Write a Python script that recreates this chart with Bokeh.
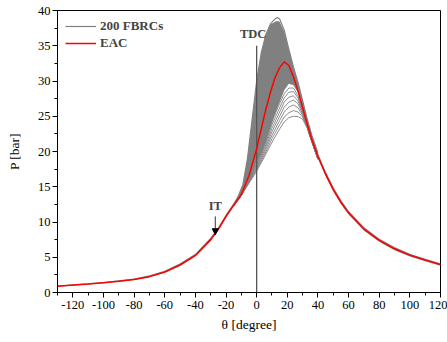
from bokeh.plotting import figure
from bokeh.models import Range1d, FixedTicker, Legend, LegendItem, Label, Arrow, NormalHead
from bokeh.embed import file_html
from bokeh.resources import INLINE

# ---- data ----
theta_red = [-130, -120, -110, -100, -90, -80, -70, -60, -50, -40, -30, -25, -20, -15, -10, -5, 0, 3, 6, 9,
             12, 15, 18, 21, 24, 27, 30, 33, 36, 40, 45, 50, 55, 60, 70, 80, 90, 100, 110, 120]
p_red = [0.9, 1.05, 1.2, 1.4, 1.6, 1.85, 2.25, 2.9, 3.9, 5.25, 7.5, 9.0, 10.8, 12.4, 13.9, 16.6, 20.4, 23.2, 26.0, 28.4,
         30.5, 31.9, 32.7, 32.2, 30.6, 28.6, 26.2, 23.9, 21.7, 19.3, 16.8, 14.6, 12.8, 11.3, 9.0, 7.4, 6.2, 5.3, 4.6, 3.95]

# dense part of the 200 FBRC bundle (upper / lower envelope)
theta_band = [-130, -120, -110, -100, -90, -80, -70, -60, -50, -40, -30, -25, -20, -15, -12, -9, -6, -3,
              0, 3, 6, 9, 12, 13.5, 15, 18, 21, 24, 27, 30, 33, 36, 40, 45, 50, 55, 60, 70, 80, 90, 100, 110, 120]
band_hi = [1.0, 1.15, 1.3, 1.5, 1.75, 2.0, 2.45, 3.1, 4.15, 5.5, 7.8, 9.3, 11.1, 12.7, 13.7, 15.3, 19.0, 24.5,
           30.0, 34.0, 36.6, 38.0, 38.4, 38.5, 38.4, 37.0, 34.4, 32.0, 29.8, 27.2, 24.6, 22.3, 19.8,
           17.2, 15.0, 13.15, 11.6, 9.3, 7.65, 6.45, 5.5, 4.8, 4.15]
band_lo = [0.82, 0.97, 1.12, 1.32, 1.52, 1.77, 2.17, 2.8, 3.8, 5.1, 7.3, 8.8, 10.6, 12.2, 13.0, 14.0, 15.2, 16.7,
           18.6, 19.6, 21.4, 23.4, 25.3, 26.2, 27.0, 28.7, 29.6, 29.4, 28.3, 25.9, 23.6, 21.4, 19.0,
           16.5, 14.35, 12.55, 11.05, 8.8, 7.2, 6.0, 5.12, 4.45, 3.8]

# highest FBRC
theta_top = [-15, -12, -9, -6, -3, 0, 3, 6, 9, 12, 13.5, 15, 18, 21, 24, 27, 30, 33, 36, 40]
p_top = [12.4, 13.7, 15.3, 19.0, 24.5, 30.0, 34.0, 36.6, 38.1, 38.8, 39.0, 38.8, 37.2, 34.5, 32.0, 29.8,
         27.2, 24.6, 22.3, 19.8]

# sparse low FBRCs
theta_low = [-15, -10, -5, 0, 5, 10, 15, 18, 21, 24, 27, 30, 33, 36, 40]
low_1 = [12.3, 13.8, 15.5, 17.2, 19.2, 21.3, 23.2, 24.2, 24.8, 25.0, 24.95, 24.6, 23.3, 21.4, 18.9]
low_2 = [12.3, 13.8, 15.6, 17.4, 19.5, 21.8, 23.8, 24.9, 25.5, 25.8, 25.6, 24.9, 23.4, 21.4, 18.9]
low_3 = [12.3, 13.8, 15.7, 17.6, 19.8, 22.3, 24.4, 25.6, 26.3, 26.6, 26.2, 25.1, 23.5, 21.4, 18.9]
low_4 = [12.3, 13.8, 15.8, 17.8, 20.1, 22.8, 25.0, 26.3, 27.0, 27.3, 26.8, 25.3, 23.5, 21.4, 18.9]
low_5 = [12.3, 13.8, 15.9, 18.0, 20.4, 23.3, 25.6, 27.0, 27.7, 27.9, 27.2, 25.5, 23.5, 21.4, 18.9]
low_6 = [12.3, 13.8, 16.0, 18.2, 20.7, 23.8, 26.2, 27.6, 28.4, 28.5, 27.6, 25.7, 23.6, 21.4, 19.0]
low_7 = [12.3, 13.8, 16.1, 18.4, 21.0, 24.3, 26.8, 28.2, 29.0, 29.0, 27.9, 25.8, 23.6, 21.4, 19.0]

x_ticks = [-120, -100, -80, -60, -40, -20, 0, 20, 40, 60, 80, 100, 120]
x_tick_labels = ["-120", "-100", "-80", "-60", "-40", "-20", "0", "20", "40", "60", "80", "100", "120"]
x_minor = [-130, -110, -90, -70, -50, -30, -10, 10, 30, 50, 70, 90, 110]
y_ticks = [0, 5, 10, 15, 20, 25, 30, 35, 40]
y_minor = [2.5, 7.5, 12.5, 17.5, 22.5, 27.5, 32.5, 37.5]

GRAY = "#808080"
FONT = "Liberation Serif"

p = figure(width=447, height=342, x_range=Range1d(-130, 120), y_range=Range1d(0, 40),
           output_backend="svg", toolbar_location=None,
           min_border_left=57, min_border_right=7, min_border_top=10, min_border_bottom=50)
p.background_fill_color = "white"
p.border_fill_color = "white"
p.grid.visible = False
p.outline_line_color = "black"
p.outline_line_width = 1

for ax in (p.xaxis[0], p.yaxis[0]):
    ax.axis_line_color = "black"
    ax.major_tick_line_color = "black"
    ax.minor_tick_line_color = "black"
    ax.major_tick_in = 0
    ax.major_tick_out = 5
    ax.minor_tick_in = 0
    ax.minor_tick_out = 3
    ax.major_label_text_font = FONT
    ax.major_label_text_font_size = "12.5px"
    ax.major_label_text_color = "black"
    ax.axis_label_text_font = FONT
    ax.axis_label_text_font_size = "13.5px"
    ax.axis_label_text_font_style = "normal"
    ax.axis_label_text_color = "black"

p.xaxis.ticker = FixedTicker(ticks=x_ticks, minor_ticks=x_minor)
p.xaxis.major_label_overrides = {t: s for t, s in zip(x_ticks, x_tick_labels)}
p.xaxis.major_label_standoff = 3
p.xaxis.axis_label = "θ [degree]"
p.xaxis.axis_label_standoff = 5
p.yaxis.ticker = FixedTicker(ticks=y_ticks, minor_ticks=y_minor)
p.yaxis.major_label_standoff = 2
p.yaxis.axis_label = "P [bar]"
p.yaxis.axis_label_standoff = 13

# bundle
p.varea(x=theta_band, y1=band_lo, y2=band_hi, fill_color=GRAY, fill_alpha=1.0)
for curve in (low_1, low_2, low_3, low_4, low_5, low_6, low_7):
    p.line(theta_low, curve, line_color=GRAY, line_width=0.9)
top = p.line(theta_top, p_top, line_color=GRAY, line_width=1.2)

# TDC line
p.segment(x0=[0], y0=[0], x1=[0], y1=[35.0], line_color="#555555", line_width=1.3)

red = p.line(theta_red, p_red, line_color="#ff0000", line_width=1.5, line_join="round")

legend = Legend(items=[LegendItem(label="200 FBRCs", renderers=[top]),
                       LegendItem(label="EAC", renderers=[red])],
                location=(8, 241), padding=0, margin=0, spacing=1,
                glyph_width=31, glyph_height=16, label_height=16, label_standoff=4,
                label_text_font=FONT, label_text_font_style="bold", label_text_font_size="13px",
                border_line_color=None, background_fill_alpha=0)
p.add_layout(legend)

# annotations
p.add_layout(Label(x=-2.3, y=36.7, text="TDC", text_font=FONT, text_font_style="bold",
                   text_font_size="12.5px", text_align="center", text_baseline="middle"))
p.add_layout(Label(x=-27, y=12.3, text="IT", text_font=FONT, text_font_style="bold",
                   text_font_size="12.5px", text_align="center", text_baseline="middle"))
p.add_layout(Arrow(end=NormalHead(size=6, fill_color="black", line_color="black"),
                   x_start=-27, y_start=10.8, x_end=-27, y_end=8.2,
                   line_color="#333333", line_width=1))

open("out.html", "w").write(file_html(p, INLINE))
